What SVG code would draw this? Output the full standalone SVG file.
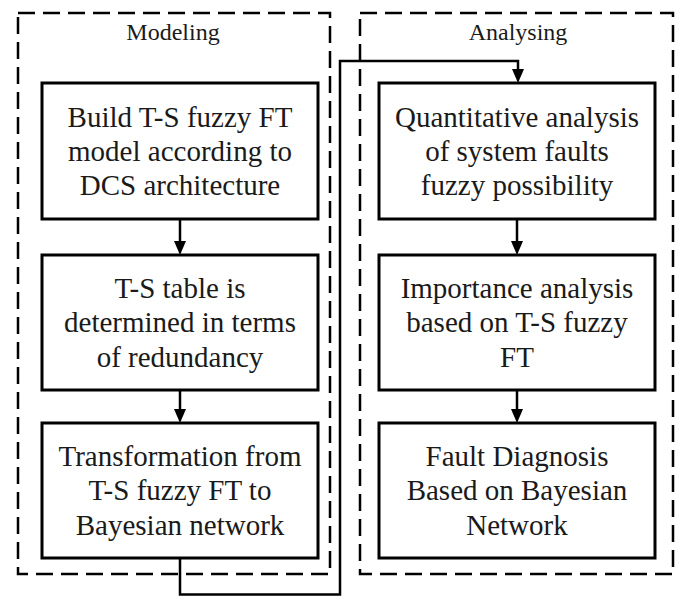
<svg xmlns="http://www.w3.org/2000/svg" width="682" height="596" viewBox="0 0 682 596">
<defs>
<style>
.grp{fill:none;stroke:#000;stroke-width:2.5;stroke-dasharray:17 8}
.box{fill:#fff;stroke:#000;stroke-width:3}
.t{font-family:'Liberation Serif','DejaVu Serif',serif;font-size:29px;fill:#1a1a1a;text-anchor:middle}
.h{font-family:'Liberation Serif','DejaVu Serif',serif;font-size:24px;fill:#1a1a1a;text-anchor:middle}
.c{fill:none;stroke:#000;stroke-width:2.5}
</style>
</defs>
<rect width="682" height="596" fill="#fff"/>
<g id="modeling">
<rect class="grp" x="18" y="13" width="312" height="561"/>
<text class="h" x="173" y="40">Modeling</text>
</g>
<g id="analysing">
<rect class="grp" x="360" y="13" width="313" height="561"/>
<text class="h" x="518" y="40">Analysing</text>
</g>
<g id="connectors">
<path class="c" d="M180,558 V594.5 H340 V61 H518 V69"/>
<path d="M512,69 L524,69 L518,83 Z" fill="#000"/>
<path class="c" d="M180,219 V241"/>
<path d="M174,241 L186,241 L180,255 Z" fill="#000"/>
<path class="c" d="M180,390 V409"/>
<path d="M174,409 L186,409 L180,423 Z" fill="#000"/>
<path class="c" d="M517,219 V241"/>
<path d="M511,241 L523,241 L517,255 Z" fill="#000"/>
<path class="c" d="M517,390 V409"/>
<path d="M511,409 L523,409 L517,423 Z" fill="#000"/>
</g>
<g id="n1">
<rect class="box" x="42" y="83" width="276" height="136"/>
<text class="t" x="180" y="127">Build T-S fuzzy FT</text>
<text class="t" x="180" y="161">model according to</text>
<text class="t" x="180" y="195">DCS architecture</text>
</g>
<g id="n2">
<rect class="box" x="42" y="255" width="276" height="135"/>
<text class="t" x="180" y="298">T-S table is</text>
<text class="t" x="180" y="332">determined in terms</text>
<text class="t" x="180" y="367">of redundancy</text>
</g>
<g id="n3">
<rect class="box" x="42" y="423" width="276" height="135"/>
<text class="t" x="180" y="466">Transformation from</text>
<text class="t" x="180" y="500">T-S fuzzy FT to</text>
<text class="t" x="180" y="535">Bayesian network</text>
</g>
<g id="n4">
<rect class="box" x="379" y="83" width="276" height="136"/>
<text class="t" x="517" y="127">Quantitative analysis</text>
<text class="t" x="517" y="161">of system faults</text>
<text class="t" x="517" y="195">fuzzy possibility</text>
</g>
<g id="n5">
<rect class="box" x="379" y="255" width="276" height="135"/>
<text class="t" x="517" y="298">Importance analysis</text>
<text class="t" x="517" y="332">based on T-S fuzzy</text>
<text class="t" x="517" y="367">FT</text>
</g>
<g id="n6">
<rect class="box" x="379" y="423" width="276" height="135"/>
<text class="t" x="517" y="466">Fault Diagnosis</text>
<text class="t" x="517" y="500">Based on Bayesian</text>
<text class="t" x="517" y="535">Network</text>
</g>
</svg>
